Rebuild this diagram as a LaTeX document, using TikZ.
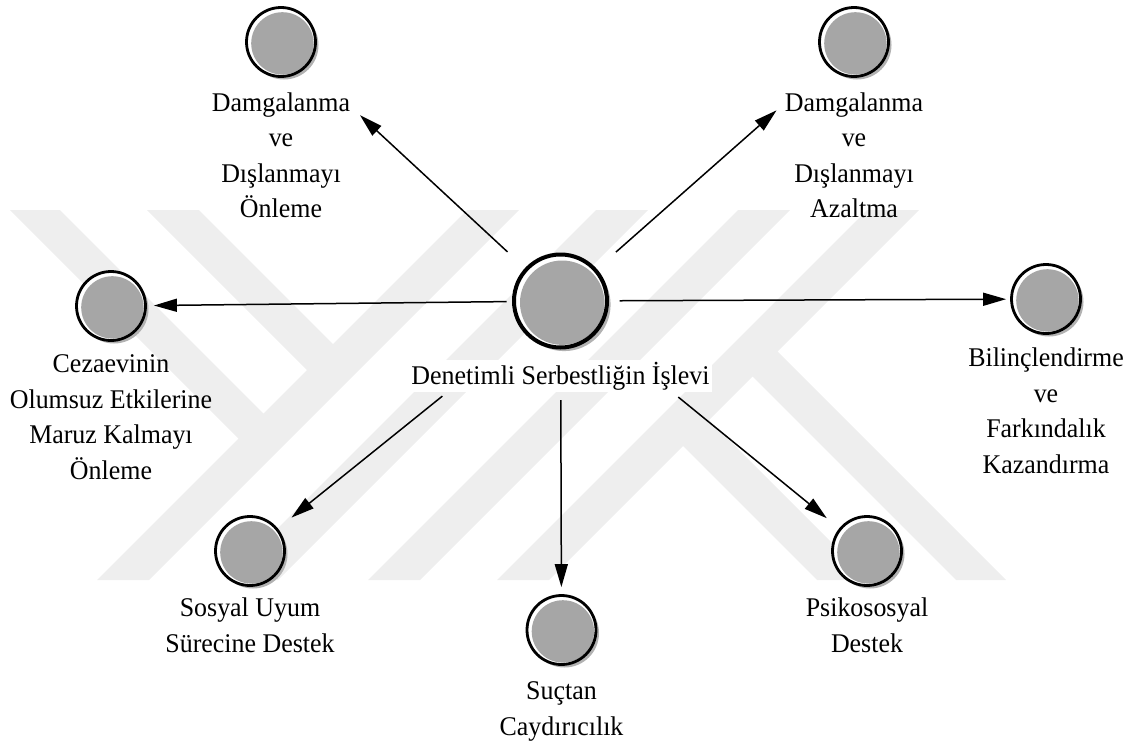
\documentclass[tikz,border=0pt]{standalone}
\usepackage{fontspec}
\setmainfont[FakeStretch=0.96]{Liberation Serif}
\usetikzlibrary{positioning,arrows.meta,shadows}

\definecolor{ballgray}{RGB}{166,166,166}
\definecolor{shadegray}{RGB}{178,178,178}
\definecolor{markgray}{RGB}{238,238,238}

\tikzset{
    ball/.style={circle, draw, line width=1.4pt, fill=white, minimum size=34.5pt, inner sep=0pt,
        drop shadow={shadow xshift=1.5pt, shadow yshift=-1.5pt, fill=shadegray, opacity=1},
        path picture={\fill[ballgray] ([shift={(0.7pt,-0.7pt)}]path picture bounding box.center) circle[radius=15.6pt];}},
    bigball/.style={circle, draw, line width=2pt, fill=white, minimum size=46.5pt, inner sep=0pt,
        drop shadow={shadow xshift=1.8pt, shadow yshift=-1.8pt, fill=shadegray, opacity=1},
        path picture={\fill[ballgray] ([shift={(0.85pt,-0.85pt)}]path picture bounding box.center) circle[radius=21.1pt];}},
    lbl/.style={align=center, inner sep=0pt, font=\fontsize{13.5}{17.75}\selectfont},
    arr/.style={-{Triangle[length=11.5pt,width=6.5pt]}, line width=0.75pt},
}

\begin{document}
\begin{tikzpicture}[x=0.5pt,y=-0.5pt]
    \useasboundingbox (0,0) rectangle (1129,744);

    % faint logo behind the picture
    \begin{scope}
        \clip (0,210) rectangle (1129,580);
        \foreach \turn in {0,180}{
            \begin{scope}[rotate around={\turn:(508,395)}]
                \fill[markgray] (467,210) -- (519,210) -- (149,580) -- (97,580) -- cycle;
                \fill[markgray] (596,210) -- (648,210) -- (278,580) -- (226,580) -- cycle;
                \fill[markgray] (10,210) -- (60,210) -- (276.5,426.5) -- (251.5,451.5) -- cycle;
                \fill[markgray] (147,210) -- (199,210) -- (346,357) -- (320,383) -- cycle;
            \end{scope}
        }
    \end{scope}

    \node[bigball] (islev) at (560.5,301) {};
    \node[ball] (damga1) at (281,42) {};
    \node[ball] (damga2) at (854,42) {};
    \node[ball] (cezaevi) at (111,306) {};
    \node[ball] (bilinc) at (1046,299) {};
    \node[ball] (uyum) at (250,551) {};
    \node[ball] (suc) at (561.5,630) {};
    \node[ball] (psiko) at (867,551) {};

    \node[lbl, fill=white, inner sep=1pt, below=5pt of islev] (islevtxt) {Denetimli Serbestliğin İşlevi};
    \node[lbl, below=7.2pt of damga1] (damga1txt) {Damgalanma\\ve\\Dışlanmayı\\Önleme};
    \node[lbl, below=7.2pt of damga2] (damga2txt) {Damgalanma\\ve\\Dışlanmayı\\Azaltma};
    \node[lbl, below=6.4pt of cezaevi] (cezaevitxt) {Cezaevinin\\Olumsuz Etkilerine\\Maruz Kalmayı\\Önleme};
    \node[lbl, below=6.4pt of bilinc] (bilinctxt) {Bilinçlendirme\\ve\\Farkındalık\\Kazandırma};
    \node[lbl, below=5.4pt of uyum] (uyumtxt) {Sosyal Uyum\\Sürecine Destek};
    \node[lbl, below=7.7pt of suc] (suctxt) {Suçtan\\Caydırıcılık};
    \node[lbl, below=5.4pt of psiko] (psikotxt) {Psikososyal\\Destek};

    \draw[arr, shorten <=11.85pt, shorten >=35.9pt] (islev) -- (damga1);
    \draw[arr, shorten <=12.7pt, shorten >=33.7pt] (islev) -- (damga2);
    \draw[arr, shorten <=2.75pt, shorten >=3.5pt] (islev) -- (cezaevi);
    \draw[arr, shorten <=5.25pt, shorten >=2pt] (islev) -- (bilinc);
    \draw[arr, shorten <=51.6pt, shorten >=8.7pt] (islev) -- (uyum);
    \draw[arr, shorten <=25.25pt, shorten >=3.5pt] (islev) -- (suc);
    \draw[arr, shorten <=51.75pt, shorten >=8pt] (islev) -- (psiko);
\end{tikzpicture}
\end{document}
